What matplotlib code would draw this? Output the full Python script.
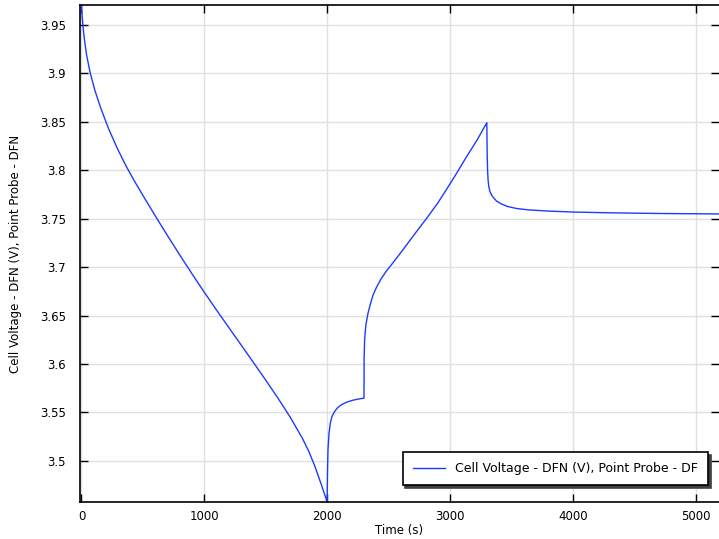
import matplotlib
matplotlib.use("Agg")
import matplotlib.pyplot as plt
import matplotlib.ticker as mticker

# values (time in s, cell voltage in V)
TIME = [
    0, 3, 6, 10, 20, 40, 70, 110, 160, 220, 290, 360, 430, 500, 600, 700,
    800, 900, 1000, 1100, 1200, 1300, 1400, 1500, 1600, 1700, 1800, 1850,
    1900, 1950, 1975, 2000,
    2001, 2003, 2007, 2015, 2026, 2040, 2061, 2085, 2115, 2160, 2210, 2260, 2300,
    2301, 2305, 2315, 2332, 2350, 2373, 2405, 2440, 2480, 2530, 2618, 2700,
    2808, 2900, 2971, 3050, 3133, 3220, 3300,
    3301, 3303, 3306, 3310, 3316, 3325, 3338, 3355, 3380, 3420, 3470, 3540,
    3640, 3800, 4000, 4300, 4700, 5200,
]
VOLTAGE = [
    3.971, 3.964, 3.958, 3.952, 3.939, 3.920, 3.901, 3.882, 3.863, 3.843,
    3.823, 3.805, 3.789, 3.774, 3.753, 3.7325, 3.7125, 3.693, 3.674, 3.6555,
    3.6375, 3.6195, 3.6015, 3.5833, 3.5646, 3.5449, 3.5229, 3.5099, 3.4944,
    3.4764, 3.467, 3.4574,
    3.472, 3.490, 3.512, 3.528, 3.539, 3.546, 3.551, 3.5548, 3.5578, 3.5606,
    3.5626, 3.5639, 3.5647,
    3.607, 3.625, 3.640, 3.652, 3.661, 3.671, 3.680, 3.688, 3.6955, 3.7035,
    3.718, 3.732, 3.750, 3.766, 3.780, 3.796, 3.8135, 3.831, 3.849,
    3.835, 3.815, 3.800, 3.790, 3.783, 3.778, 3.7745, 3.7715, 3.768, 3.765,
    3.7625, 3.7605, 3.759, 3.7578, 3.7568, 3.756, 3.7553, 3.7548,
]

X_TICKS = [0, 1000, 2000, 3000, 4000, 5000]
Y_TICKS = [3.5, 3.55, 3.6, 3.65, 3.7, 3.75, 3.8, 3.85, 3.9, 3.95]
LINE_LABEL = "Cell Voltage - DFN (V), Point Probe - DF"

plt.rcParams.update({
    "font.family": "DejaVu Sans",
    "font.size": 8.5,
})

fig = plt.figure(figsize=(7.19, 5.39), dpi=100)
ax = fig.add_axes([80 / 719, 1 - 502 / 539, 639 / 719, 497 / 539])

ax.plot(TIME, VOLTAGE, color="#1a3cff", linewidth=1.0, label=LINE_LABEL)

ax.set_xlim(-12, 5190)
ax.set_ylim(3.4575, 3.9705)
ax.set_xticks(X_TICKS)
ax.set_yticks(Y_TICKS)
ax.yaxis.set_major_formatter(mticker.FuncFormatter(lambda v, _p: f"{v:g}"))

ax.grid(True, color="#e0e0e0", linewidth=1.0)
ax.set_axisbelow(True)
ax.tick_params(direction="in", length=6, width=1.0, top=True, right=True,
               colors="black", labelsize=8.5)
ax.tick_params(axis="y", pad=10)
ax.tick_params(axis="x", pad=6)
for side in ["left", "bottom", "top"]:
    ax.spines[side].set_linewidth(1.2)
ax.spines["right"].set_visible(False)

ax.set_xlabel("Time (s)", fontsize=8.5)
ax.set_ylabel("Cell Voltage - DFN (V), Point Probe - DFN", fontsize=8.5)
ax.xaxis.set_label_coords(0.5, -0.044)
ax.yaxis.set_label_coords(-0.091, 0.5)

leg = ax.legend(
    loc="lower right",
    bbox_to_anchor=((708 - 80) / 639, (502 - 485) / 497),
    borderaxespad=0,
    fancybox=False,
    shadow={"color": "#404040", "alpha": 1.0},
    framealpha=1.0,
    edgecolor="black",
    fontsize=9,
    handlelength=2.6,
    handletextpad=0.8,
    borderpad=0.8,
)
leg.get_frame().set_linewidth(1.2)

fig.savefig("out.png", dpi=100)
